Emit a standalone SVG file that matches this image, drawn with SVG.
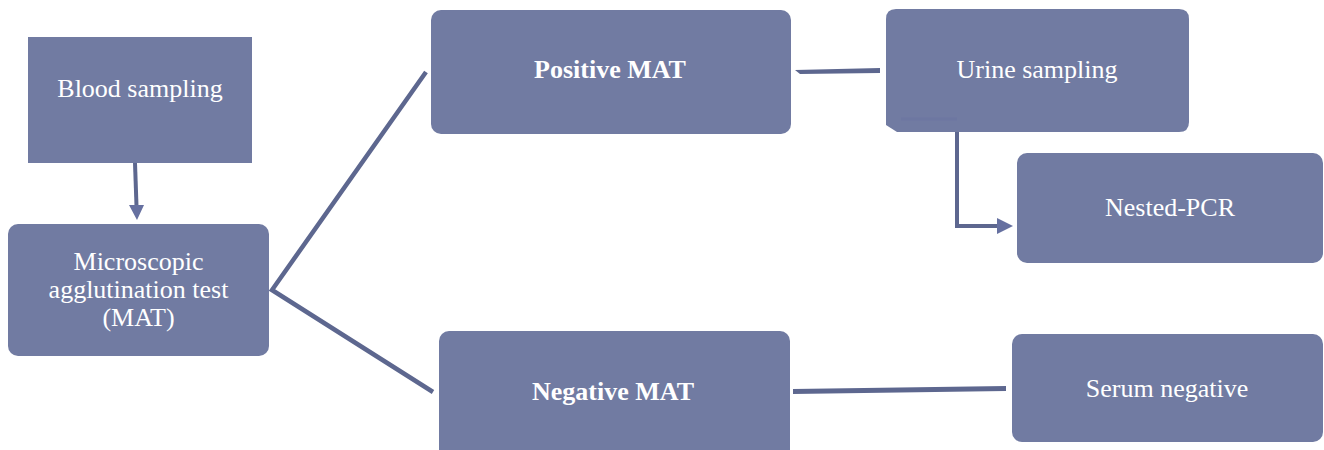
<svg xmlns="http://www.w3.org/2000/svg" width="1324" height="450" viewBox="0 0 1324 450">
<style>
.box{fill:#717ba2;}
.t{font-family:"Liberation Serif","Times New Roman",serif;font-size:26px;fill:#ffffff;text-anchor:middle;}
.b{font-weight:bold;}
.c{stroke:#5d678f;fill:none;stroke-linecap:butt;}
.ah{fill:#6670a0;}
</style>
<rect width="1324" height="450" fill="#ffffff"/>
<g id="connectors">
<line class="c" x1="135" y1="163" x2="136.5" y2="206" stroke-width="4" stroke="#6670a0"/>
<path class="ah" d="M129,205 L144,205 L137,220 Z"/>
<polyline class="c" points="426,72 272,290 433,392" stroke-width="4.5"/>
<path d="M880,68 L880,73 L800,74 L795,70 Z" fill="#5d678f"/>
<polyline class="c" points="957,120 957,226 998,226" stroke-width="4" stroke="#6670a0"/>
<path class="ah" d="M997,218 L1013,226 L997,234 Z"/>
<path d="M793,389 L1006,386 L1006,391 L793,394 Z" fill="#5d678f"/>
</g>
<g id="blood"><rect class="box" x="28" y="37" width="224" height="126"/><text class="t" x="140" y="97">Blood sampling</text></g>
<g id="mat"><rect class="box" x="8" y="224" width="261" height="132" rx="10"/><text class="t" x="138.5" y="270">Microscopic</text><text class="t" x="138.5" y="298">agglutination test</text><text class="t" x="138.5" y="326">(MAT)</text></g>
<g id="positive"><rect class="box" x="431" y="10" width="360" height="124" rx="10"/><text class="t b" x="610" y="78">Positive MAT</text></g>
<g id="negative"><rect class="box" x="439" y="331" width="351" height="130" rx="10"/><text class="t b" x="613" y="400">Negative MAT</text></g>
<g id="urine"><path class="box" d="M896,9 H1179 Q1189,9 1189,19 V122 Q1189,132 1179,132 H897 L886,125 V19 Q886,9 896,9 Z"/><rect x="901" y="117.5" width="56" height="3" fill="#6670a0" opacity="0.35"/><text class="t" x="1037" y="78">Urine sampling</text></g>
<g id="nested"><rect class="box" x="1017" y="153" width="306" height="110" rx="10"/><text class="t" x="1170" y="216">Nested-PCR</text></g>
<g id="serum"><rect class="box" x="1012" y="334" width="311" height="108" rx="10"/><text class="t" x="1167" y="397">Serum negative</text></g>
</svg>
